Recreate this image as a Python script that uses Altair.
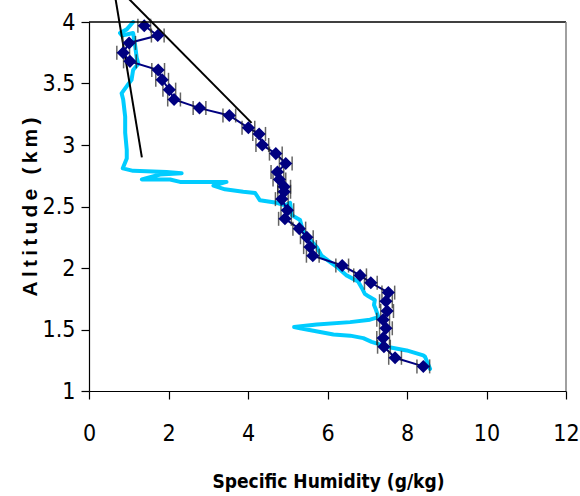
import altair as alt
import pandas as pd

# Sonde profile: specific humidity (g/kg) against altitude (km), top to bottom
sonde_q = [1.11, 0.95, 0.78, 0.83, 1.11, 1.16, 1.20, 1.24, 1.11, 1.07, 0.91, 0.82,
           0.86, 0.91, 0.91, 0.95, 0.95, 0.85, 1.11, 1.95, 2.33, 1.79, 1.33, 2.04,
           2.29, 3.04, 3.46, 3.13, 3.42, 3.88, 4.18, 4.30, 4.72, 4.93, 5.06, 5.10,
           5.31, 5.35, 5.43, 5.56, 5.73, 5.85, 6.06, 6.27, 6.48, 6.77, 6.86, 6.94,
           7.03, 7.19, 7.17, 7.22, 7.28, 7.07, 6.57, 5.73, 5.16, 5.31, 6.15, 6.57,
           6.90, 7.11, 7.49, 7.99, 8.41, 8.45, 8.58]
sonde_z = [4.00, 3.94, 3.91, 3.89, 3.91, 3.81, 3.71, 3.66, 3.61, 3.53, 3.46, 3.42,
           3.37, 3.23, 3.10, 2.96, 2.89, 2.81, 2.79, 2.78, 2.77, 2.76, 2.72, 2.72,
           2.70, 2.70, 2.70, 2.67, 2.64, 2.62, 2.61, 2.55, 2.53, 2.51, 2.53, 2.43,
           2.39, 2.34, 2.27, 2.23, 2.17, 2.10, 2.05, 2.00, 1.94, 1.89, 1.84, 1.79,
           1.77, 1.74, 1.70, 1.66, 1.60, 1.58, 1.56, 1.54, 1.52, 1.51, 1.46, 1.45,
           1.43, 1.40, 1.36, 1.33, 1.29, 1.28, 1.18]

# Aircraft samples (diamonds) with their horizontal uncertainty
obs_q = [1.39, 1.73, 1.01, 0.86, 1.03, 1.74, 1.84, 2.02, 2.14, 2.78, 3.53, 4.01,
         4.28, 4.36, 4.70, 4.95, 4.74, 4.79, 4.91, 4.91, 4.85, 4.99, 4.93, 5.29,
         5.48, 5.56, 5.63, 6.37, 6.82, 7.09, 7.53, 7.47, 7.50, 7.40, 7.47, 7.40,
         7.42, 7.70, 8.41]
obs_z = [3.97, 3.89, 3.83, 3.75, 3.68, 3.61, 3.53, 3.45, 3.37, 3.30, 3.24, 3.14,
         3.09, 3.00, 2.93, 2.85, 2.78, 2.72, 2.66, 2.62, 2.56, 2.47, 2.40, 2.32,
         2.25, 2.17, 2.10, 2.02, 1.94, 1.88, 1.80, 1.73, 1.65, 1.58, 1.51, 1.43,
         1.36, 1.27, 1.20]
obs_err = 0.16

# Two straight guide lines
guide_name = ["a", "a", "b", "b"]
guide_q = [0.61, 1.33, 0.66, 4.09]
guide_z = [4.30, 2.90, 4.30, 3.18]

x_ticks = [0, 2, 4, 6, 8, 10, 12]
y_ticks = [1, 1.5, 2, 2.5, 3, 3.5, 4]

W, H = 477, 369
NARROW = "Liberation Sans Narrow, Arial Narrow, DejaVu Sans Condensed, sans-serif"

sonde = pd.DataFrame({"q": sonde_q, "z": sonde_z, "i": range(len(sonde_q))})
obs = pd.DataFrame({"q": obs_q, "z": obs_z, "i": range(len(obs_q))})
obs["lo"] = obs["q"] - obs_err
obs["hi"] = obs["q"] + obs_err
caps = pd.DataFrame({"q": list(obs["lo"]) + list(obs["hi"]), "z": obs_z + obs_z})
guides = pd.DataFrame({"g": guide_name, "q": guide_q, "z": guide_z})

x_scale = alt.Scale(domain=[0, 12], nice=False, zero=False)
y_scale = alt.Scale(domain=[1, 4], nice=False, zero=False)

x_enc = alt.X(
    "q:Q", scale=x_scale,
    axis=alt.Axis(
        title="Specific Humidity (g/kg)", values=x_ticks, format="~g",
        titleFont=NARROW, titleFontSize=19, titleFontWeight="bold", titleColor="black",
        titleX=239, titleY=96, titleBaseline="alphabetic",
    ),
)
y_enc = alt.Y(
    "z:Q", scale=y_scale,
    axis=alt.Axis(
        title="A\u2009l\u2009t\u2009i\u2009t\u2009u\u2009d\u2009e\u2009 \u2009(\u2009k\u2009m\u2009)",
        values=y_ticks, format="~g",
        titleFont="Liberation Sans, Arial, sans-serif",
        titleFontSize=21, titleFontWeight="bold", titleColor="black",
        titleX=-59, titleY=H / 2, titleBaseline="middle", titleAngle=-90,
        titleAlign="center",
    ),
)

sonde_line = alt.Chart(sonde).mark_line(
    color="#00CCFF", strokeWidth=4, strokeJoin="round", strokeCap="round"
).encode(x=x_enc, y=y_enc, order="i:Q")

guide_lines = alt.Chart(guides).mark_line(color="black", strokeWidth=2).encode(
    x="q:Q", y="z:Q", detail="g:N"
)

obs_line = alt.Chart(obs).mark_line(color="#000080", strokeWidth=2).encode(
    x="q:Q", y="z:Q", order="i:Q"
)

err_rules = alt.Chart(obs).mark_rule(color="#222222", strokeWidth=1).encode(
    x="lo:Q", x2="hi:Q", y="z:Q"
)

err_caps = alt.Chart(caps).mark_tick(
    orient="vertical", size=14, thickness=1.5, color="#222222"
).encode(x="q:Q", y="z:Q")

diamonds = alt.Chart(obs).mark_point(
    shape="diamond", filled=True, size=170, color="#000080", opacity=1
).encode(x="q:Q", y="z:Q")

frame = alt.Data(values=[{}])
top_edge = alt.Chart(frame).mark_rule(color="black", strokeWidth=1.5).encode(
    x=alt.value(0), x2=alt.value(W), y=alt.value(0)
)
right_edge = alt.Chart(frame).mark_rule(color="#808080", strokeWidth=1.5).encode(
    x=alt.value(W), y=alt.value(0), y2=alt.value(H)
)

chart = alt.layer(
    sonde_line, guide_lines, obs_line, err_rules, err_caps, diamonds,
    top_edge, right_edge,
).properties(
    width=W, height=H,
    background="white",
    autosize=alt.AutoSizeParams(type="none"),
    padding={"left": 89, "top": 22, "right": 14, "bottom": 105},
).configure_view(stroke=None).configure_axis(
    grid=False, domainColor="black", domainWidth=1.2, tickColor="black",
    tickSize=8, tickWidth=1.2, labelFont=NARROW, labelFontSize=23,
    labelColor="black", labelPadding=6, labelFlush=False, labelOverlap=False,
).configure_axisX(labelPadding=23)

chart.save("out.html", embed_options={"renderer": "svg", "actions": False})
